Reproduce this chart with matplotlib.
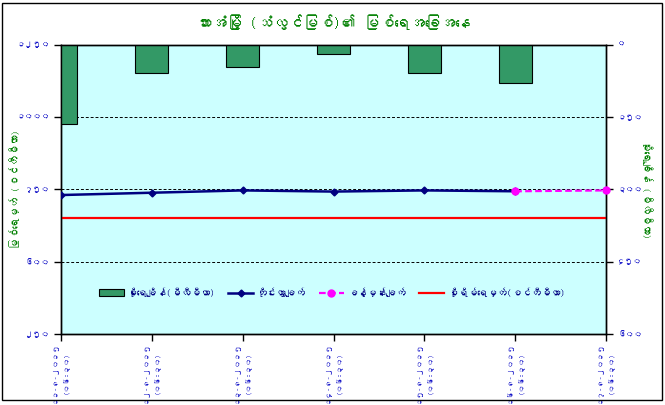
import matplotlib
matplotlib.use('Agg')
import matplotlib.pyplot as plt
from matplotlib import font_manager as fm
from matplotlib.lines import Line2D
from matplotlib.patches import Patch, Rectangle

# ---------------- data ----------------
title = 'ဘားအံမြို့ (သံလွင်မြစ်)၏ မြစ်ရေအခြေအနေ'
dates = ['၁၁-၈-၂၀၁၅', '၁၂-၈-၂၀၁၅', '၁၃-၈-၂၀၁၅', '၁၄-၈-၂၀၁၅',
         '၁၅-၈-၂၀၁၅', '၁၆-၈-၂၀၁၅', '၁၇-၈-၂၀၁၅']
reading_time = '(၀၆:၃၀)'
rainfall_mm = [164, 60, 47, 20, 60, 80, 0]
measured_cm = [730, 738, 746, 742, 746, 743]
forecast_idx = [5, 6]
forecast_cm = [743, 746]
danger_level_cm = 650
left_ticks = [250, 500, 750, 1000, 1250]
left_tick_labels = ['၂၅၀', '၆၀၀', '၇၅၀', '၁၀၀၀', '၁၂၅၀']
right_ticks = [0, 150, 300, 450, 600]
right_tick_labels = ['၀', '၁၅၀', '၃၀၀', '၄၅၀', '၆၀၀']
left_title = 'မြစ်ရေမှတ် (စင်တီမီတာ)'
right_title = 'မိုးရေချိန် (မီလီမီတာ)'
legend_labels = ['မိုးရေချိန်(မီလီမီတာ)', 'တိုင်းတွာချက်', 'ခန့်မှန်းချက်',
                 'စိုးရိမ်ရေမှတ်(စင်တီမီတာ)']


# ---------------- font with Myanmar glyphs ----------------
def find_myanmar_font():
    try:
        from fontTools.ttLib import TTFont
    except Exception:
        return None
    paths = set(fm.findSystemFonts())
    paths |= {f.fname for f in fm.fontManager.ttflist}
    for path in sorted(paths):
        try:
            tt = TTFont(path, fontNumber=0, lazy=True)
            cmap = tt.getBestCmap()
            if cmap and 0x1019 in cmap and 0x1041 in cmap:
                fm.fontManager.addfont(path)
                return fm.FontProperties(fname=path).get_name()
        except Exception:
            continue
    return None


mm_font = find_myanmar_font()
families = ([mm_font] if mm_font else []) + ['DejaVu Sans']
plt.rcParams['font.family'] = families

BLUE = '#1414C8'
GREEN = '#008000'

fig = plt.figure(figsize=(6.65, 4.05), dpi=100)
fig.patch.set_facecolor('white')
rect = [61 / 665, 1 - 334 / 405, 545 / 665, 289.5 / 405]
ax = fig.add_axes(rect)
axr = ax.twinx()
ax.set_zorder(axr.get_zorder() + 1)
ax.patch.set_visible(False)
axr.patch.set_visible(True)
axr.patch.set_facecolor('#CCFFFF')

x = list(range(len(dates)))

# bars on right axis (inverted)
axr.bar(x, rainfall_mm, width=0.36, color='#339966', edgecolor='black',
        linewidth=0.8, zorder=3)
axr.set_ylim(600, 0)
axr.set_yticks(right_ticks)
axr.set_yticklabels(right_tick_labels)
axr.yaxis.grid(True, linestyle=(0, (3, 2)), color='black', linewidth=0.7, zorder=1)
axr.set_axisbelow(True)
axr.set_ylabel(right_title, color=GREEN, fontsize=7.5, rotation=270, va='center')
axr.yaxis.set_label_coords(1.075, 0.5)

# lines on left axis
ax.axhline(danger_level_cm, color='#FF0000', linewidth=1.6, zorder=2)
ax.plot(x[:len(measured_cm)], measured_cm, color='#000080', linewidth=1.8,
        marker='D', markersize=3.5, zorder=4)
ax.plot(forecast_idx, forecast_cm, color='#FF00FF', linewidth=1.6,
        linestyle=(0, (3, 1.5)), marker='o', markersize=5, zorder=5, clip_on=False)
ax.set_ylim(250, 1250)
ax.set_yticks(left_ticks)
ax.set_yticklabels(left_tick_labels)
ax.set_ylabel(left_title, color=GREEN, fontsize=7.5, va='center')
ax.yaxis.set_label_coords(-0.085, 0.5)
ax.set_xlim(0, 6)
ax.set_xticks(x)
ax.set_xticklabels([d + '\n' + reading_time for d in dates], rotation=90,
                   ha='center', va='top', multialignment='center', linespacing=1.8)

for a in (ax, axr):
    for s in a.spines.values():
        s.set_color('black')
        s.set_linewidth(1.0)
    a.tick_params(colors='black', labelcolor=BLUE, labelsize=6, direction='out',
                  length=5, width=1.0)
ax.tick_params(axis='x', pad=1, labelsize=5.5)
axr.tick_params(axis='y', pad=3)
ax.tick_params(axis='y', pad=3)

fig.text(333 / 665, 1 - 22 / 405, title, color=GREEN, fontsize=11,
         fontweight='bold', ha='center', va='center')

handles = [Patch(facecolor='#339966', edgecolor='black', linewidth=0.8),
           Line2D([], [], color='#000080', linewidth=1.8, marker='D', markersize=3.5),
           Line2D([], [], color='#FF00FF', linewidth=1.6, linestyle=(0, (3, 1.5)),
                  marker='o', markersize=5),
           Line2D([], [], color='#FF0000', linewidth=1.6)]
leg = ax.legend(handles, legend_labels, loc='center', bbox_to_anchor=(0.497, 0.145),
                ncol=4, frameon=False, fontsize=7, handlelength=2.6,
                columnspacing=1.3, handletextpad=0.4)
for t in leg.get_texts():
    t.set_color('#000080')

fig.patches.append(Rectangle((2 / 665, 5 / 405), 660 / 665, 397 / 405,
                             transform=fig.transFigure, fill=False,
                             edgecolor='black', linewidth=1.0))

fig.savefig('out.png', dpi=100, facecolor='white')
